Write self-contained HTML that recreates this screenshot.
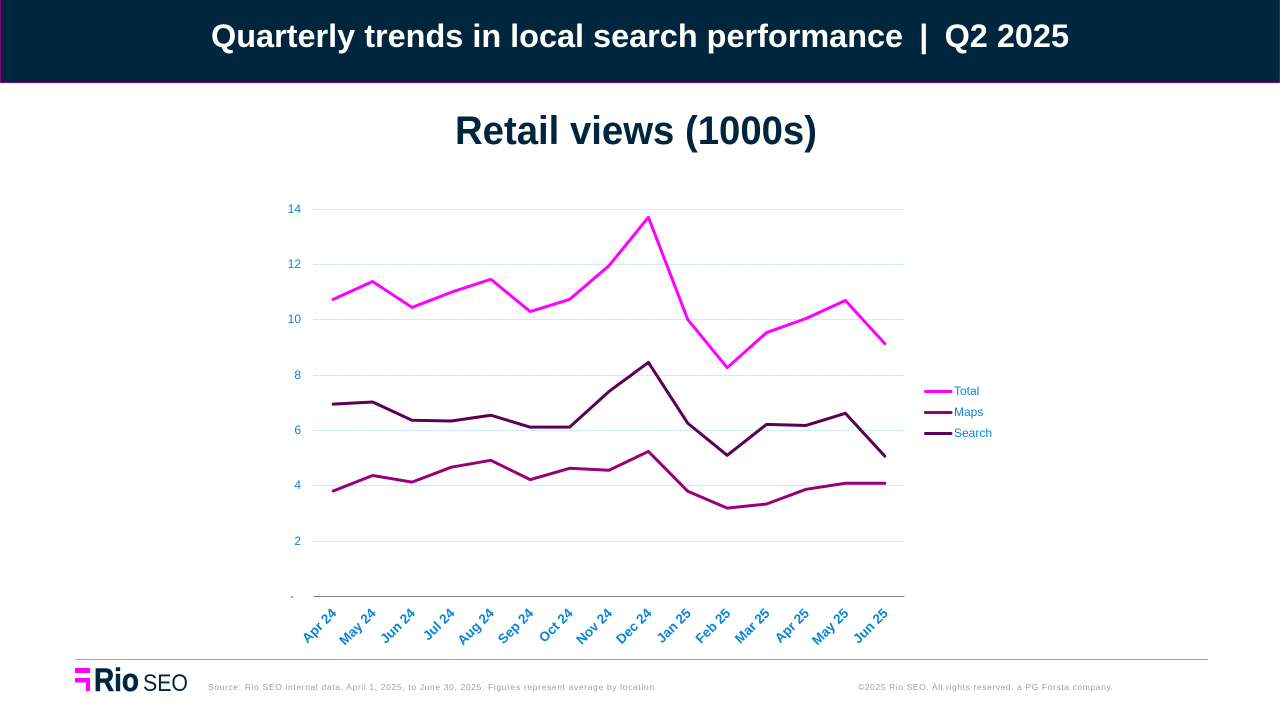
<!DOCTYPE html>
<html lang="en">
<head>
<meta charset="utf-8">
<title>Quarterly trends in local search performance</title>
<style>
html,body{margin:0;padding:0;background:#fff;width:1280px;height:720px;overflow:hidden}
svg{display:block;font-family:"Liberation Sans",sans-serif}
</style>
</head>
<body>
<svg id="slide" xmlns="http://www.w3.org/2000/svg" width="1280" height="720" viewBox="0 0 1280 720">
  <rect x="0" y="0" width="1280" height="720" fill="#ffffff"/>
  <rect x="0.5" y="-2" width="1279" height="84.5" fill="#00263e" stroke="#8a007e" stroke-width="1"/>
  <text x="640" y="47" text-anchor="middle" font-size="32" font-weight="700" fill="#ffffff" textLength="858" lengthAdjust="spacingAndGlyphs">Quarterly trends in local search performance&#8194;|&#8194;Q2 2025</text>
  <text x="636" y="144" text-anchor="middle" font-size="40" font-weight="700" fill="#00263e" textLength="362" lengthAdjust="spacingAndGlyphs">Retail views (1000s)</text>
  <g id="chart"></g>
  <line x1="75" y1="659.5" x2="1208" y2="659.5" stroke="#a6a6a6" stroke-width="1"/>
  <g>
    <rect x="75" y="668" width="15" height="5" fill="#ff00ff"/>
    <rect x="75" y="678" width="15" height="4.5" fill="#ff00ff"/>
    <rect x="86" y="678" width="4" height="13" fill="#ff00ff"/>
    <text x="94" y="691" font-size="32" font-weight="700" fill="#00263e" stroke="#00263e" stroke-width="0.6" textLength="45" lengthAdjust="spacingAndGlyphs">Rio</text>
    <text x="143" y="691" font-size="24" fill="#00263e" textLength="45" lengthAdjust="spacingAndGlyphs">SEO</text>
  </g>
  <text x="208" y="690" font-size="8.5" fill="#a0a0a0" textLength="449" lengthAdjust="spacing">Source: Rio SEO internal data, April 1, 2025, to June 30, 2025. Figures represent average by location.</text>
  <text x="858" y="690" font-size="8.5" fill="#a0a0a0" textLength="255" lengthAdjust="spacing">©2025 Rio SEO. All rights reserved. a PG Forsta company.</text>
</svg>
<script>
const categories = ["Apr 24","May 24","Jun 24","Jul 24","Aug 24","Sep 24","Oct 24","Nov 24","Dec 24","Jan 25","Feb 25","Mar 25","Apr 25","May 25","Jun 25"];
const totalValues = [10.74,11.39,10.45,11.00,11.47,10.30,10.74,11.96,13.71,10.01,8.27,9.54,10.05,10.70,9.14];
const mapsValues = [3.81,4.37,4.13,4.67,4.92,4.22,4.63,4.56,5.24,3.80,3.19,3.34,3.87,4.09,4.09];
const searchValues = [6.95,7.03,6.37,6.34,6.55,6.12,6.12,7.41,8.46,6.26,5.10,6.22,6.18,6.62,5.07];
const yTicks = [2,4,6,8,10,12,14];
const yTickLabels = ["2","4","6","8","10","12","14"];
const zeroLabel = "-";
const seriesNames = ["Total","Maps","Search"];

const plotLeft = 313.5, plotRight = 904.5, plotBottom = 596.3, plotTop = 209.3, yMax = 14;
const blue = "#0a84d8";
const svgNS = "http://www.w3.org/2000/svg";
const chart = document.getElementById("chart");

function xScale(i){ return plotLeft + (plotRight - plotLeft) * (i + 0.5) / categories.length; }
function yScale(v){ return plotBottom - (plotBottom - plotTop) * v / yMax; }
function make(tag, attrs, text){
  const el = document.createElementNS(svgNS, tag);
  for (const k in attrs) el.setAttribute(k, attrs[k]);
  if (text !== undefined) el.textContent = text;
  chart.appendChild(el);
  return el;
}

yTicks.forEach(function(t, i){
  const y = Math.floor(yScale(t)) + 0.5;
  const grid = make("line", {x1: plotLeft, x2: plotRight, y1: y, y2: y, stroke: "#b5e3fa", "stroke-width": 1, "stroke-dasharray": "2 1"});
  
  
  const label = make("text", {x: 301, y: y + 3.5, "text-anchor": "end", "font-size": 12, fill: blue}, yTickLabels[i]);
  
  
});

const zero = make("text", {x: 294, y: yScale(0) + 3.5, "text-anchor": "end", "font-size": 12, fill: blue}, zeroLabel);



const axisY = Math.floor(yScale(0)) + 0.5;
const axis = make("line", {x1: plotLeft, x2: plotRight, y1: axisY, y2: axisY, stroke: "#7f7f7f", "stroke-width": 1});



categories.forEach(function(c, i){
  const x = xScale(i) + 4, y = 614;
  const label = make("text", {x: x, y: y, "text-anchor": "end", "font-size": 13.5, "font-weight": 700, fill: blue, transform: "rotate(-45 " + x + " " + y + ")"}, c);
  
  
});

function drawSeries(values, color){
  const pts = values.map(function(v, i){ return xScale(i).toFixed(2) + "," + yScale(v).toFixed(2); }).join(" ");
  return make("polyline", {points: pts, fill: "none", stroke: color, "stroke-width": 3, "stroke-linejoin": "round", "stroke-linecap": "round"});
}
const searchLine = drawSeries(searchValues, "#5a0055");


const mapsLine = drawSeries(mapsValues, "#960078");


const totalLine = drawSeries(totalValues, "#ff00ff");



const legendColors = ["#ff00ff","#960078","#5a0055"];
const legendRows = [391.5,412.5,433.5];
seriesNames.forEach(function(n, i){
  const swatch = make("line", {x1: 925.5, x2: 951, y1: legendRows[i], y2: legendRows[i], stroke: legendColors[i], "stroke-width": 3, "stroke-linecap": "round"});
  
  
  const text = make("text", {x: 954, y: legendRows[i] + 3.5, "font-size": 12, fill: blue}, n);
  
  
});
</script>
</body>
</html>
